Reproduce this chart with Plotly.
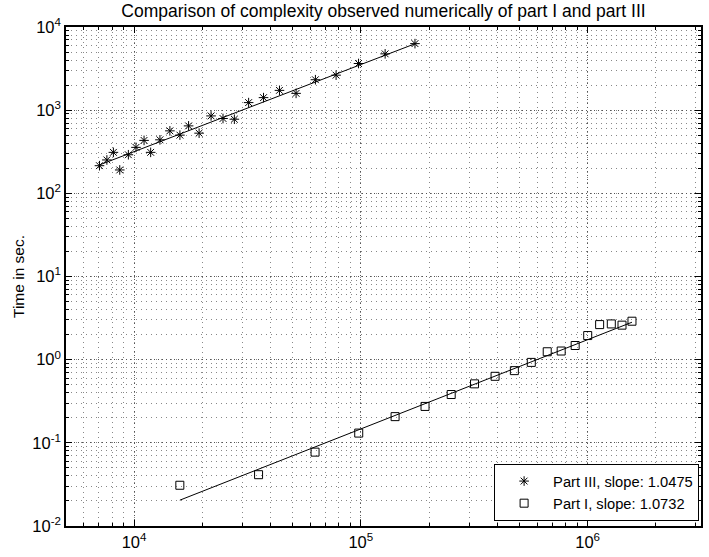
import numpy as np
import plotly.graph_objects as go

# Part III (stars)
part3_x = [7040, 7590, 8110, 8650, 9440, 10200, 11070, 11840, 13010, 14390, 15930, 17400,
           19360, 21860, 24680, 27690, 32010, 37240, 43780, 51830, 63060, 77790, 97710,
           128000, 173300]
part3_t = [215, 252, 311, 191, 291, 357, 433, 311, 440, 564, 501, 647, 529, 853, 794, 778,
           1233, 1415, 1730, 1592, 2323, 2636, 3640, 4755, 6310]

# Part I (squares)
part1_x = [15920, 35410, 62840, 97900, 141600, 191900, 250300, 317200, 390800, 475400,
           564500, 663700, 764700, 881300, 1001000, 1130000, 1272000, 1418000, 1569000]
part1_t = [0.0309, 0.0414, 0.0773, 0.131, 0.2065, 0.274, 0.381, 0.512, 0.631, 0.738, 0.927,
           1.245, 1.27, 1.48, 1.95, 2.64, 2.69, 2.60, 2.90]

# log-log fit lines: log10(t) = intercept + slope*log10(x)
series_names = ["Part III, slope: 1.0475", "Part I, slope: 1.0732"]
fit_slopes = [1.0475, 1.0732]
fit_intercepts = [-1.689, -6.199]

# tick exponents
x_exponents = [4, 5, 6]
y_exponents = [-2, -1, 0, 1, 2, 3, 4]

FONT = "Liberation Sans, Arial, Helvetica, sans-serif"

fig = go.Figure()

def fit_line(xs, s, b):
    xe = np.array([min(xs), max(xs)], dtype=float)
    return xe, 10 ** (b + s * np.log10(xe))

for xs, s, b in [(part3_x, fit_slopes[0], fit_intercepts[0]), (part1_x, fit_slopes[1], fit_intercepts[1])]:
    fx, fy = fit_line(xs, s, b)
    fig.add_trace(go.Scatter(x=fx, y=fy, mode="lines", line=dict(color="black", width=1),
                             showlegend=False, hoverinfo="skip"))

fig.add_trace(go.Scatter(x=part3_x, y=part3_t, mode="markers", name=series_names[0],
                         marker=dict(symbol="asterisk-open", size=8, color="black",
                                     line=dict(color="black", width=1))))
fig.add_trace(go.Scatter(x=part1_x, y=part1_t, mode="markers", name=series_names[1],
                         marker=dict(symbol="square-open", size=8, color="black",
                                     line=dict(color="black", width=1))))

def pow_labels(exps):
    return [10.0 ** e for e in exps], [f"10<sup>{e}</sup>" for e in exps]

def axis_common(exps):
    vals, texts = pow_labels(exps)
    return dict(
        type="log", tickmode="array", tickvals=vals, ticktext=texts,
        showline=True, linecolor="black", linewidth=1.5, mirror="allticks",
        ticks="inside", ticklen=6, tickcolor="black", tickwidth=1,
        showgrid=True, gridcolor="#555", griddash="1px,3px", gridwidth=1,
        minor=dict(ticks="inside", ticklen=3, tickcolor="black", dtick="D1",
                   showgrid=True, gridcolor="#888", griddash="1px,4px", gridwidth=1),
        tickfont=dict(family=FONT, size=16.5, color="black"),
        zeroline=False,
    )

fig.update_layout(
    width=709, height=557,
    margin=dict(l=66, r=6, t=27, b=28),
    paper_bgcolor="white", plot_bgcolor="white",
    font=dict(family=FONT, size=14, color="black"),
    title=dict(text="Comparison of complexity observed numerically of part I and part III",
               x=0.5, xref="paper", xanchor="center", y=1 - 11 / 557, yanchor="middle",
               font=dict(family=FONT, size=17.5, color="black")),
    xaxis=dict(range=[3.7, 6.5], **axis_common(x_exponents)),
    yaxis=dict(range=[-2, 4], title=dict(text="Time in sec.", font=dict(family=FONT, size=15.5), standoff=4),
               **axis_common(y_exponents)),
    legend=dict(x=0.997, y=0.01, xanchor="right", yanchor="bottom",
                bgcolor="white", bordercolor="black", borderwidth=1, itemwidth=48,
                font=dict(family=FONT, size=14.7, color="black"), tracegroupgap=0),
    showlegend=True,
)

fig.write_html("out.html")
